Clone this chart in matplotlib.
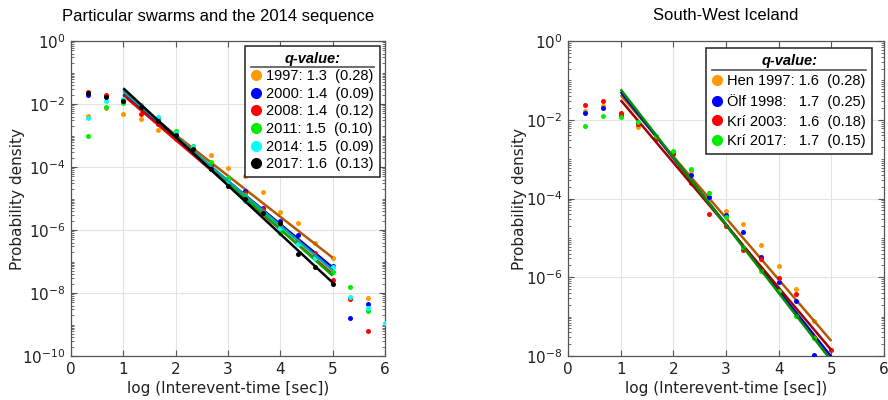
import numpy as np
import matplotlib
matplotlib.use('Agg')
import matplotlib.pyplot as plt
from matplotlib.lines import Line2D
from matplotlib.ticker import LogLocator, NullFormatter

plt.rcParams['font.family'] = ['DejaVu Sans']
plt.rcParams['mathtext.fontset'] = 'dejavusans'

nan = np.nan
# log10 of inter-event time bin centres
log_t = [0.33, 0.67, 1.0, 1.33, 1.67, 2.0, 2.33, 2.67, 3.0, 3.33, 3.67, 4.0,
         4.33, 4.67, 5.0, 5.33, 5.67, 6.0]

# ---- Left panel: log10(probability density) ----
left_labels = ["1997: 1.3  (0.28)", "2000: 1.4  (0.09)", "2008: 1.4  (0.12)",
               "2011: 1.5  (0.10)", "2014: 1.5  (0.09)", "2017: 1.6  (0.13)"]
l1997 = [-2.38, -2.13, -2.32, -2.49, -2.84, -3.10, -3.35, -3.62, -4.03, -4.29, -4.80, -5.43,
         -5.79, -6.40, -6.90, nan, -8.15, nan]
l2000 = [-1.70, -1.75, -1.92, -2.08, -2.45, -2.95, -3.40, -3.95, -4.40, -4.75, -5.30, -5.72,
         -6.15, -6.80, -7.15, -8.78, -8.34, nan]
l2008 = [-1.62, -1.70, -1.95, -2.32, -2.63, -2.97, -3.40, -3.95, -4.42, -4.84, -5.34, -5.85,
         -6.35, -6.74, -7.59, -8.20, -9.22, nan]
l2011 = [-3.00, -2.08, -1.98, -2.05, -2.45, -2.85, -3.33, -3.85, -4.36, -4.90, -5.42, -6.08,
         -6.45, -6.85, -7.34, -7.82, -8.58, nan]
l2014 = [-2.43, -1.90, -1.85, -2.03, -2.40, -2.92, -3.38, -4.05, -4.45, -5.08, -5.45, -5.95,
         -6.45, -6.90, -7.16, -8.14, -8.48, -8.96]
l2017 = [-1.66, -1.79, -1.89, -2.10, -2.53, -2.98, -3.44, -4.06, -4.60, -5.02, -5.45, -5.77,
         -6.77, -7.17, -7.71, nan, nan, nan]
left_series = [l1997, l2000, l2008, l2011, l2014, l2017]
# fitted lines: log10 density at log_t = 1 and log_t = 5
fit_x = [1.0, 5.0]
left_fit_start = [-1.68, -1.70, -1.72, -1.55, -1.60, -1.50]
left_fit_end = [-6.88, -7.19, -7.40, -7.45, -7.28, -7.67]

# ---- Right panel ----
right_labels = ["Hen 1997: 1.6  (0.28)", "Ölf 1998:   1.7  (0.25)",
                "Krí 2003:   1.6  (0.18)", "Krí 2017:   1.7  (0.15)"]
rHen = [-1.78, -1.64, -1.90, -2.18, -2.47, -2.85, -3.30, -3.85, -4.33, -4.66, -5.19, -5.72,
        -6.29, -7.11, nan, nan, nan, nan]
rOlf = [-1.84, -1.70, -1.91, -2.10, -2.45, -2.84, -3.41, -3.95, -4.43, -4.84, -5.49, -6.11,
        -6.60, -7.97, nan, nan, nan, nan]
rKri03 = [-1.62, -1.53, -1.84, -2.10, -2.50, -2.88, -3.61, -4.39, -4.70, -5.30, -5.53, -6.02,
          -6.42, -7.53, -7.86, nan, nan, nan]
rKri17 = [-2.17, -1.91, -1.93, -2.05, -2.40, -2.80, -3.24, -3.87, -4.47, -5.22, -5.84, -6.36,
          -6.98, -7.55, nan, nan, nan, nan]
right_series = [rHen, rOlf, rKri03, rKri17]
right_fit_start = [-1.37, -1.29, -1.50, -1.23]
right_fit_end = [-7.62, -8.02, -7.85, -8.12]

left_dot_colors = ['#ff9900', '#0000ff', '#ff0000', '#00ee00', '#00ffff', '#000000']
left_line_colors = ['#b35a00', '#0000cc', '#dd0000', '#00b000', '#00a8a8', '#000000']
right_dot_colors = ['#ff9900', '#0000ff', '#ff0000', '#00ee00']
right_line_colors = ['#b35a00', '#0000cc', '#a00000', '#009000']

W, H = 888, 400
fig = plt.figure(figsize=(W / 100, H / 100), dpi=100)
ax1 = fig.add_axes([71 / W, 1 - 356 / H, 314 / W, 315 / H])
ax2 = fig.add_axes([568 / W, 1 - 356 / H, 316 / W, 315 / H])

x = np.array(log_t)


def draw(ax, series, starts, ends, dcols, lcols):
    for s, a, b, dc, lc in zip(series, starts, ends, dcols, lcols):
        ax.plot(x, 10.0 ** np.array(s), 'o', ms=3.6, color=dc, mec='none', zorder=3)
        ax.plot(fit_x, 10.0 ** np.array([a, b]), '-', color=lc, lw=1.8, zorder=3,
                solid_capstyle='butt')


draw(ax1, left_series, left_fit_start, left_fit_end, left_dot_colors, left_line_colors)
draw(ax2, right_series, right_fit_start, right_fit_end, right_dot_colors, right_line_colors)

for ax, ymin in ((ax1, 1e-10), (ax2, 1e-8)):
    ax.set_yscale('log')
    ax.set_xlim(0, 6)
    ax.set_ylim(ymin, 1)
    ax.set_xticks(range(7))
    majors = [10.0 ** e for e in range(int(np.log10(ymin)), 1, 2)]
    ax.set_yticks(majors)
    ax.yaxis.set_minor_locator(LogLocator(base=10, subs=np.arange(1, 10), numticks=100))
    ax.yaxis.set_minor_formatter(NullFormatter())
    ax.grid(True, which='major', color='#e3e3e3', lw=0.8, zorder=0)
    ax.set_axisbelow(True)
    ax.tick_params(which='both', direction='in', top=True, right=True, color='#555555',
                   labelsize=11, labelcolor='#222222')
    ax.tick_params(which='major', length=4, pad=4)
    ax.tick_params(which='minor', length=2)
    for sp in ax.spines.values():
        sp.set_color('#555555')
        sp.set_linewidth(0.9)
    ax.set_xlabel('log (Interevent-time [sec])', fontsize=11, color='#222222')
    ax.set_ylabel('Probability density', fontsize=11, color='#222222')
    ax.xaxis.set_label_coords(0.5, -0.078)

ax1.yaxis.set_label_coords(-0.146, 0.5)
ax2.yaxis.set_label_coords(-0.13, 0.5)

fig.text(218 / W, 1 - 16 / H, 'Particular swarms and the 2014 sequence', ha='center',
         va='center', fontsize=12, family='Liberation Sans')
fig.text(726 / W, 1 - 16 / H, 'South-West Iceland', ha='center', va='center',
         fontsize=12, family='Liberation Sans')


def make_legend(ax, labels, cols, anchor, spacing):
    handles = [Line2D([], [], marker='o', ls='none', color=c, mec='none', ms=8) for c in cols]
    leg = ax.legend(handles, labels, loc='upper right', bbox_to_anchor=anchor,
                    prop={'family': 'Liberation Sans', 'size': 10.5},
                    title='q-value:', title_fontproperties={'family': 'Liberation Sans',
                                                            'size': 10.5, 'weight': 'bold',
                                                            'style': 'italic'},
                    frameon=True, fancybox=False, framealpha=1, edgecolor='#222222',
                    handlelength=0.7, handletextpad=0.35, labelspacing=spacing,
                    borderpad=0.4, borderaxespad=0.0)
    leg.get_frame().set_linewidth(1.1)
    leg.set_zorder(10)
    return leg


leg1 = make_legend(ax1, left_labels, left_dot_colors, (0.984, 0.985), 0.25)
leg2 = make_legend(ax2, right_labels, right_dot_colors, (0.962, 0.977), 0.4)

fig.canvas.draw()
for leg in (leg1, leg2):
    tb = leg.get_title().get_window_extent()
    fb = leg.get_frame().get_window_extent()
    y = (tb.y0 - 1.5) / H
    fig.add_artist(Line2D([(fb.x0 + 6) / W, (fb.x1 - 6) / W], [y, y],
                          transform=fig.transFigure, color='#555555', lw=1.2, zorder=20))

fig.savefig('out.png', dpi=100)
